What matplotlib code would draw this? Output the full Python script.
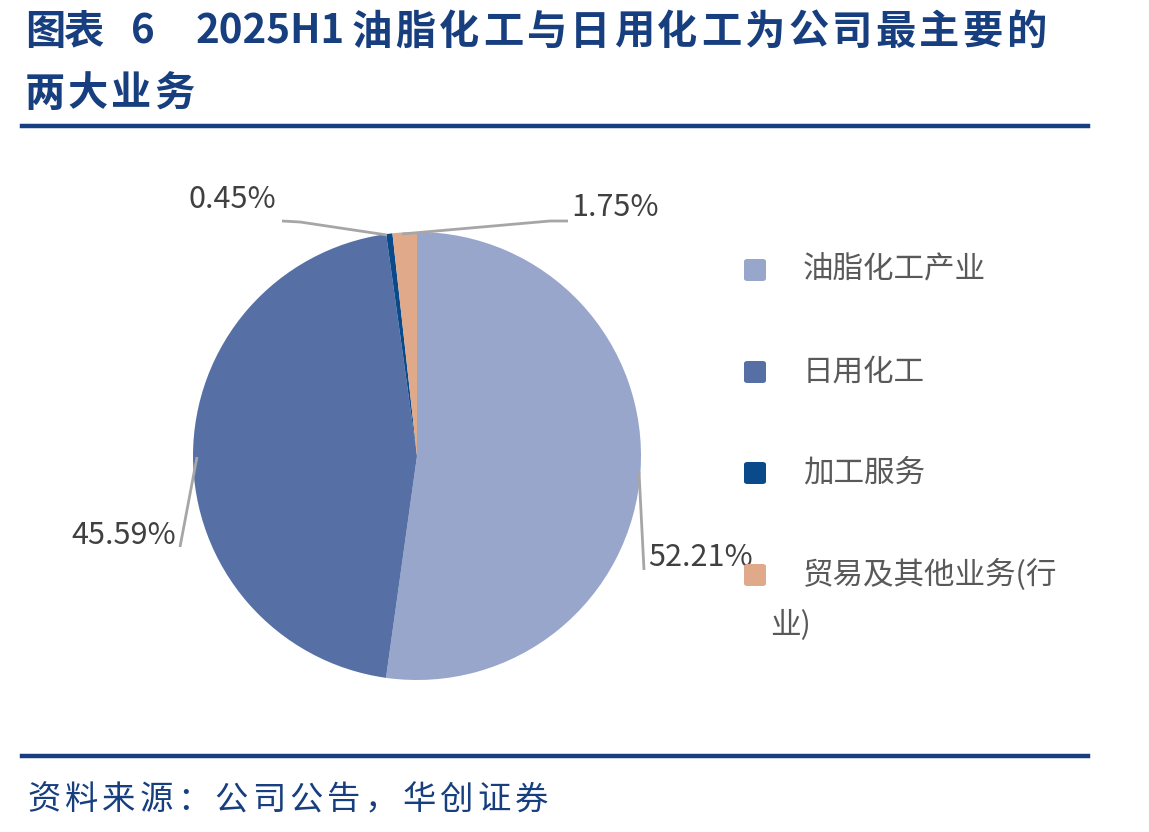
import matplotlib
matplotlib.use("Agg")
import matplotlib.pyplot as plt
from matplotlib.patches import FancyBboxPatch
from matplotlib.lines import Line2D

plt.rcParams['font.family'] = ['Noto Sans CJK SC', 'DejaVu Sans']

# data
categories = ['油脂化工产业', '日用化工', '加工服务', '贸易及其他业务(行\n业)']
shares = [52.21, 45.59, 0.45, 1.75]
pct_labels = ['52.21%', '45.59%', '0.45%', '1.75%']
colors = ['#98A6CB', '#5670A6', '#0A4A8A', '#DFA98A']

W, H = 1149, 832
fig = plt.figure(figsize=(W / 100, H / 100), dpi=100)
navy = '#173E7E'

def fx(px):
    return px / W

def fy(py):
    return 1 - py / H

def spaced(text, x0, y, step, **kw):
    # CJK text drawn char by char to get the wider spacing of the original
    for i, ch in enumerate(text):
        fig.text(fx(x0 + i * step), fy(y), ch, va='center', ha='left', **kw)

# title + rules
tkw = dict(fontsize=29, fontweight='bold', color=navy)
spaced('图表', 25, 32, 38, **tkw)
fig.text(fx(131), fy(32), '6', va='center', ha='left', **tkw)
fig.text(fx(196), fy(32), '2025H1', va='center', ha='left', **tkw)
spaced('油脂化工与日用化工为公司最主要的', 352, 32, 43.6, **tkw)
spaced('两大业务', 25, 94, 43, **tkw)
fig.add_artist(Line2D([fx(22), fx(1088)], [fy(126), fy(126)], color=navy, lw=3.2))
fig.add_artist(Line2D([fx(22), fx(1088)], [fy(756), fy(756)], color=navy, lw=3.2))
spaced('资料来源：公司公告，华创证券', 27, 800, 37.5, fontsize=24, color=navy)

# pie
cx, cy, r = 417, 456, 224
ax = fig.add_axes([fx(cx - r), fy(cy + r), 2 * r / W, 2 * r / H])
ax.pie(shares, colors=colors, startangle=90, counterclock=False, radius=1,
       wedgeprops=dict(linewidth=0))
ax.set_xlim(-1, 1)
ax.set_ylim(-1, 1)
ax.set_aspect('auto')
ax.axis('off')

def dx(px):
    return (px - cx) / r

def dy(py):
    return (cy - py) / r

gray = '#A6A6A6'
tc = '#404040'
leaders = [
    ([639, 644], [472, 570], 648, 558, 'left'),
    ([197, 180], [457, 547], 176, 536, 'right'),
    ([387, 300, 282], [235, 222, 221], 276, 200, 'right'),
    ([402, 550, 568], [234, 221, 221], 571, 207, 'left'),
]
for (xs, ys, tx, ty, ha), lab in zip(leaders, pct_labels):
    ax.plot([dx(v) for v in xs], [dy(v) for v in ys], color=gray, lw=2,
            clip_on=False, solid_capstyle='butt')
    ax.text(dx(tx), dy(ty), lab, fontsize=22, color=tc, ha=ha, va='center',
            clip_on=False)

# legend
leg_y = [270, 372, 473, 575]
lkw = dict(fontsize=22, color='#595959', va='center', ha='left')
for yy, col, name in zip(leg_y, colors, categories):
    box = FancyBboxPatch((fx(744), fy(yy + 11)), 22 / W, 22 / H,
                         boxstyle='round,pad=0,rounding_size=0.003',
                         transform=fig.transFigure, facecolor=col,
                         edgecolor='none')
    fig.add_artist(box)
    if '\n' in name:
        first, second = name.split('\n')
        fig.text(fx(803), fy(yy), first, **lkw)
        fig.text(fx(770), fy(yy + 50), second, **lkw)
    else:
        fig.text(fx(803), fy(yy), name, **lkw)

fig.savefig('out.png', dpi=100)
